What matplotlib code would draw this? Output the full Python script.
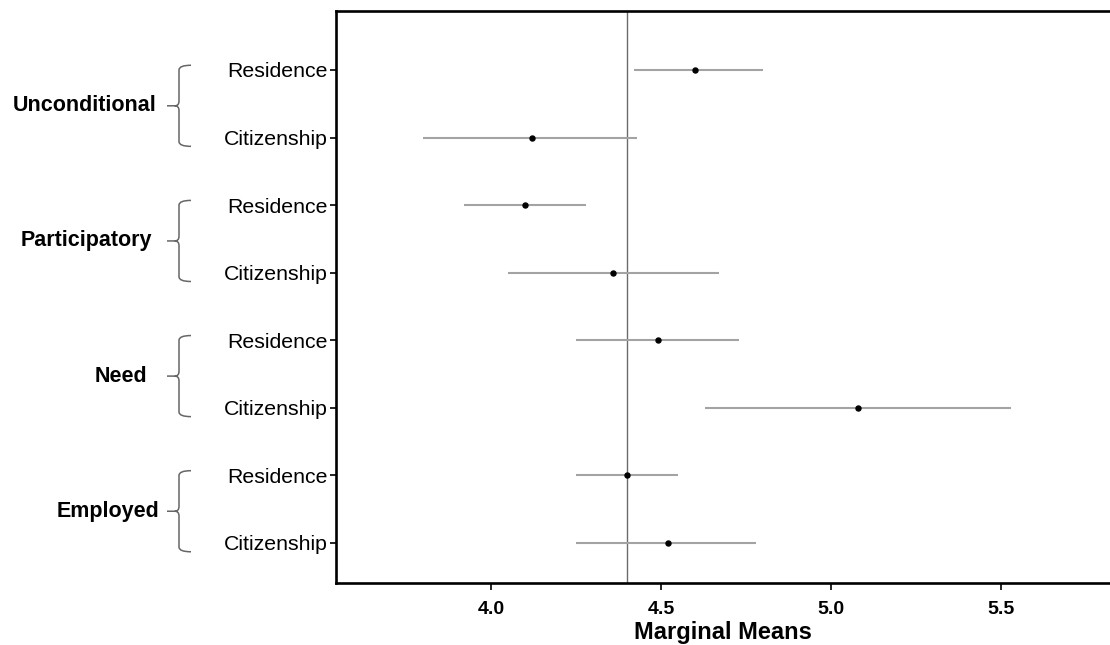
#!/usr/bin/env python3
"""Marginal means by welfare conditionality and membership criterion."""

import matplotlib

matplotlib.use("Agg")

import matplotlib.pyplot as plt
from matplotlib.path import Path
from matplotlib.patches import PathPatch
from matplotlib.transforms import blended_transform_factory
import numpy as np


GROUPS = ["Unconditional", "Participatory", "Need", "Employed"]
CRITERIA = ["Residence", "Citizenship"]

# (group, criterion) rows from top to bottom
ESTIMATES = [4.60, 4.12, 4.10, 4.36, 4.49, 5.08, 4.40, 4.52]
LOWER = [4.42, 3.80, 3.92, 4.05, 4.25, 4.63, 4.25, 4.25]
UPPER = [4.80, 4.43, 4.28, 4.67, 4.73, 5.53, 4.55, 4.78]
GRAND_MEAN = 4.40

X_TICKS = [4.0, 4.5, 5.0, 5.5]
X_LABEL = "Marginal Means"

COLORS = {
    "ink": "#000000",
    "ci": "#a3a3a3",
    "ref": "#6b6b6b",
    "brace": "#666666",
}

W, H = 1110, 645


def draw_brace(fig, ax, y_top, y_bot, x_left, x_mid, x_right, r):
    trans = blended_transform_factory(fig.transFigure, ax.transData)
    y_c = (y_top + y_bot) / 2
    dx = (x_mid - x_left) * 0.35
    verts = [
        (x_right, y_top), (x_mid, y_top), (x_mid, y_top - r),
        (x_mid, y_c + r), (x_mid, y_c), (x_mid - dx, y_c),
        (x_left, y_c),
        (x_mid - dx, y_c), (x_mid, y_c), (x_mid, y_c - r),
        (x_mid, y_bot + r), (x_mid, y_bot), (x_right, y_bot),
    ]
    codes = [
        Path.MOVETO, Path.CURVE3, Path.CURVE3,
        Path.LINETO, Path.CURVE3, Path.CURVE3,
        Path.LINETO,
        Path.MOVETO, Path.CURVE3, Path.CURVE3,
        Path.LINETO, Path.CURVE3, Path.CURVE3,
    ]
    patch = PathPatch(Path(verts, codes), transform=trans, fill=False,
                      edgecolor=COLORS["brace"], lw=1.1, clip_on=False)
    fig.add_artist(patch)


def main():
    plt.rcParams["font.family"] = ["Liberation Sans", "DejaVu Sans"]

    fig = plt.figure(figsize=(W / 100, H / 100), dpi=100)
    ax = fig.add_axes([336 / W, 62 / H, 1 - 336 / W, (583 - 11) / H])

    n = len(ESTIMATES)
    ypos = np.arange(n, 0, -1)

    ax.axvline(GRAND_MEAN, color=COLORS["ref"], lw=1.0, zorder=1)
    ax.hlines(ypos, LOWER, UPPER, color=COLORS["ci"], lw=1.5, zorder=2)
    ax.plot(ESTIMATES, ypos, "o", color=COLORS["ink"], ms=3.6, zorder=3)

    ax.set_xlim(3.544, 5.82)
    ax.set_ylim(0.408, 8.873)
    ax.set_xticks(X_TICKS)
    ax.set_xticklabels([f"{t:.1f}" for t in X_TICKS],
                       family=["Liberation Sans Narrow", "Liberation Sans"],
                       fontweight="bold", fontsize=14)
    ax.set_yticks(ypos)
    ax.set_yticklabels(CRITERIA * len(GROUPS), fontsize=15.3)
    ax.tick_params(axis="y", length=4, width=1.2, pad=2)
    ax.tick_params(axis="x", length=5, width=1.2, pad=8)
    ax.set_xlabel(X_LABEL, family=["Liberation Sans Narrow", "Liberation Sans"],
                  fontweight="bold", fontsize=17, labelpad=2)

    for side in ("left", "bottom", "top"):
        ax.spines[side].set_linewidth(1.9)
    ax.spines["right"].set_visible(False)

    # group labels with curly braces to the left of the row labels
    label_right = [156, 152, 147, 159]
    trans = blended_transform_factory(fig.transFigure, ax.transData)
    for i, group in enumerate(GROUPS):
        y_res = ypos[2 * i]
        y_cit = ypos[2 * i + 1]
        draw_brace(fig, ax, y_res + 0.07, y_cit - 0.13,
                   167 / W, 179 / W, 191 / W, 0.07)
        ax.text(label_right[i] / W, (y_res + y_cit) / 2 - 0.03, group,
                transform=trans, ha="right", va="center",
                fontsize=15.5, fontweight="bold", clip_on=False)

    fig.savefig("out.png", dpi=100, facecolor="white")
    plt.close(fig)


if __name__ == "__main__":
    main()
